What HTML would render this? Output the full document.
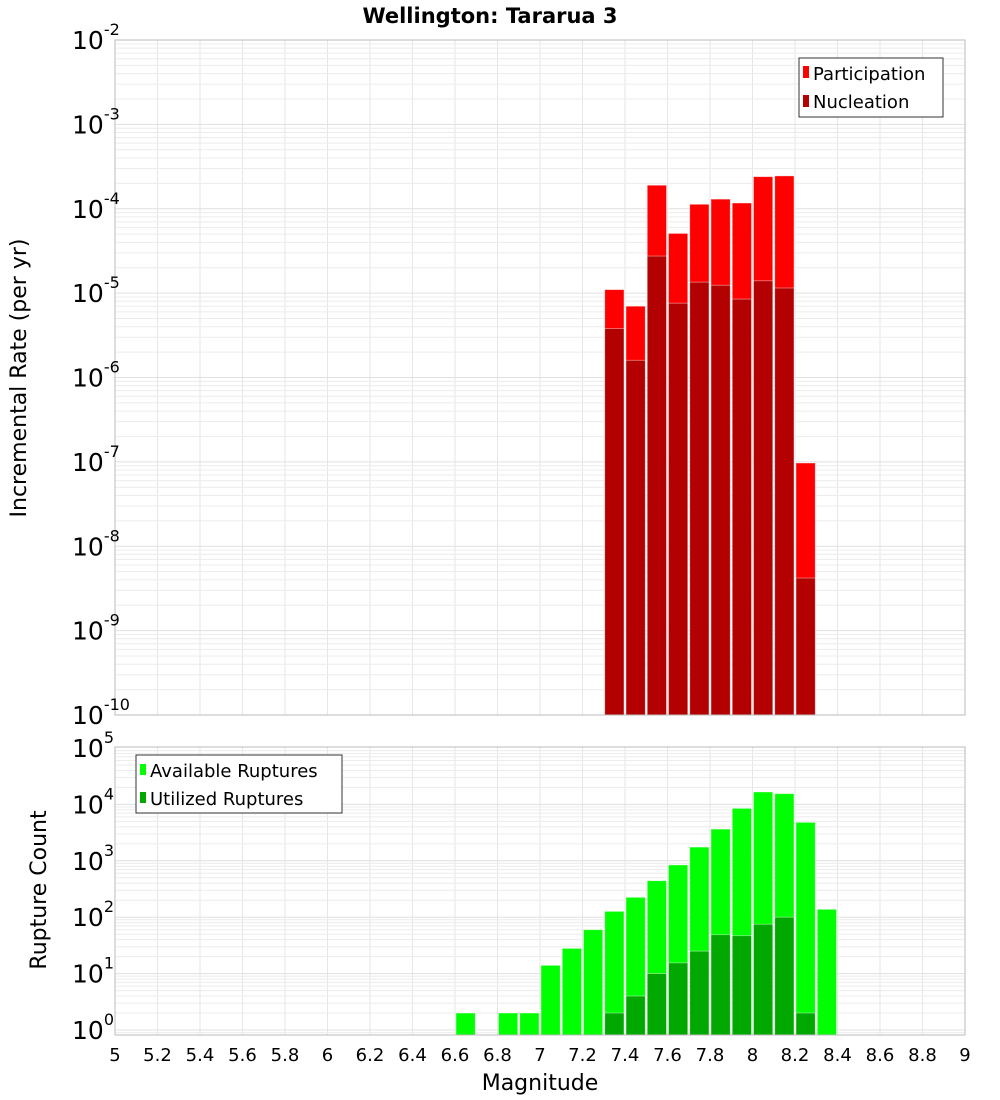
<!DOCTYPE html>
<html><head><meta charset="utf-8"><style>
body{margin:0;background:#fff;}
svg{display:block;font-family:"Liberation Sans","DejaVu Sans",sans-serif;}
</style></head><body>
<svg id="chart" width="1000" height="1100" viewBox="0 0 1000 1100" xmlns="http://www.w3.org/2000/svg">
<text x="490" y="23" text-anchor="middle" font-size="21" font-weight="bold" font-family="DejaVu Sans, sans-serif">Wellington: Tararua 3</text>
<g id="top"></g>
<g id="bot"></g>
<text transform="translate(26,378) rotate(-90)" text-anchor="middle" font-size="22" font-family="DejaVu Sans, sans-serif">Incremental Rate (per yr)</text>
<text transform="translate(46,890) rotate(-90)" text-anchor="middle" font-size="22" font-family="DejaVu Sans, sans-serif">Rupture Count</text>
<text x="540" y="1090" text-anchor="middle" font-size="22" font-family="DejaVu Sans, sans-serif">Magnitude</text>
<g>
<rect x="799" y="58" width="144" height="59" fill="#fff" stroke="#333"/>
<rect x="803" y="66" width="6" height="12" fill="#ff0000"/>
<text x="813" y="80" font-size="18" font-family="DejaVu Sans, sans-serif">Participation</text>
<rect x="803" y="95" width="6" height="12" fill="#b30000"/>
<text x="813" y="108" font-size="18" font-family="DejaVu Sans, sans-serif">Nucleation</text>
</g>
<g>
<rect x="136" y="755" width="206" height="58" fill="#fff" stroke="#333"/>
<rect x="140" y="764" width="6" height="11" fill="#00ff00"/>
<text x="150" y="777" font-size="18" font-family="DejaVu Sans, sans-serif">Available Ruptures</text>
<rect x="140" y="792" width="6" height="11" fill="#00a800"/>
<text x="150" y="805" font-size="18" font-family="DejaVu Sans, sans-serif">Utilized Ruptures</text>
</g>
</svg>
<script>
const rateMags = [7.35,7.45,7.55,7.65,7.75,7.85,7.95,8.05,8.15,8.25];
const participation = [1.1e-5,7e-6,1.9e-4,5.1e-5,1.13e-4,1.3e-4,1.17e-4,2.4e-4,2.45e-4,9.7e-8];
const nucleation = [3.8e-6,1.6e-6,2.75e-5,7.6e-6,1.35e-5,1.24e-5,8.5e-6,1.4e-5,1.15e-5,4.2e-9];
const countMags = [6.65,6.85,6.95,7.05,7.15,7.25,7.35,7.45,7.55,7.65,7.75,7.85,7.95,8.05,8.15,8.25,8.35];
const available = [2,2,2,14,28,60,127,225,443,845,1750,3650,8500,16600,15500,4800,138];
const utilizedMags = [7.35,7.45,7.55,7.65,7.75,7.85,7.95,8.05,8.15,8.25];
const utilized = [2,4,10,15.5,25,49,47,75,100,2];
const xTicks = ["5","5.2","5.4","5.6","5.8","6","6.2","6.4","6.6","6.8","7","7.2","7.4","7.6","7.8","8","8.2","8.4","8.6","8.8","9"];
const topExps = [-10,-9,-8,-7,-6,-5,-4,-3,-2];
const botExps = [0,1,2,3,4,5];

const NS="http://www.w3.org/2000/svg";
const X0=115,X1=965;
const xs=m=>X0+(m-5)/4*(X1-X0);
const T={top:40,bot:715,min:-10,max:-2};
const ty=v=>T.bot-(Math.log10(v)-T.min)/(T.max-T.min)*(T.bot-T.top);
const B={top:747,bot:1035,y0:1030,dec:56.4};
const by=v=>B.y0-Math.log10(v)*B.dec;
function mk(tag,attrs,parent){const e=document.createElementNS(NS,tag);for(const k in attrs)e.setAttribute(k,attrs[k]);parent.appendChild(e);return e;}
const gt=document.getElementById('top'),gb=document.getElementById('bot');

function grid(g,top,bot,yf,lo,hi){
  for(const t of xTicks){const x=xs(+t);const l=mk('line',{x1:x,x2:x,y1:top,y2:bot,stroke:'#e6e6e6'},g);
    
    }
  for(let e=lo;e<hi;e++)for(let k=1;k<10;k++){const y=yf(k*Math.pow(10,e));if(y<top||y>bot)continue;
    const l=mk('line',{x1:X0,x2:X1,y1:y,y2:y,stroke:k==1?'#e0e0e0':'#ececec'},g);
    
    }
}
function bar(g,m,v,base,yf,fill,name){
  const x=xs(m-0.05),w=xs(m+0.05)-x,y=yf(v);
  const r=mk('rect',{x:x+1,y:y,width:w-2,height:base-y,fill:fill,stroke:'#fff','stroke-opacity':0.5,'stroke-width':0.8},g);
  
  
}
function ylab(g,y,e){
  const t=mk('text',{x:72,y:y+9,'font-size':25,'font-family':'DejaVu Sans, sans-serif'},g);
  
  
  t.textContent='10';
  const s=mk('tspan',{dy:-14,'font-size':16},t);s.textContent=String(e);
}
// top
grid(gt,T.top,T.bot,ty,-10,-2);
rateMags.forEach((m,i)=>bar(gt,m,participation[i],T.bot,ty,'#ff0000','participation-bar'));
rateMags.forEach((m,i)=>bar(gt,m,nucleation[i],T.bot,ty,'#b30000','nucleation-bar'));
const f1=mk('rect',{x:X0,y:T.top,width:X1-X0,height:T.bot-T.top,fill:'none',stroke:'#bbb'},gt);


topExps.forEach(e=>ylab(gt,ty(Math.pow(10,e)),e));
// bottom
grid(gb,B.top,B.bot,by,-1,5);
countMags.forEach((m,i)=>bar(gb,m,available[i],B.bot,by,'#00ff00','available-bar'));
utilizedMags.forEach((m,i)=>bar(gb,m,utilized[i],B.bot,by,'#00a800','utilized-bar'));
const f2=mk('rect',{x:X0,y:B.top,width:X1-X0,height:B.bot-B.top,fill:'none',stroke:'#bbb'},gb);


botExps.forEach(e=>ylab(gb,by(Math.pow(10,e)),e));
xTicks.forEach(t=>{const l=mk('text',{x:xs(+t),y:1061,'text-anchor':'middle','font-size':18,'font-family':'DejaVu Sans, sans-serif'},gb);
  
  
  l.textContent=t;});
</script>
</body></html>
